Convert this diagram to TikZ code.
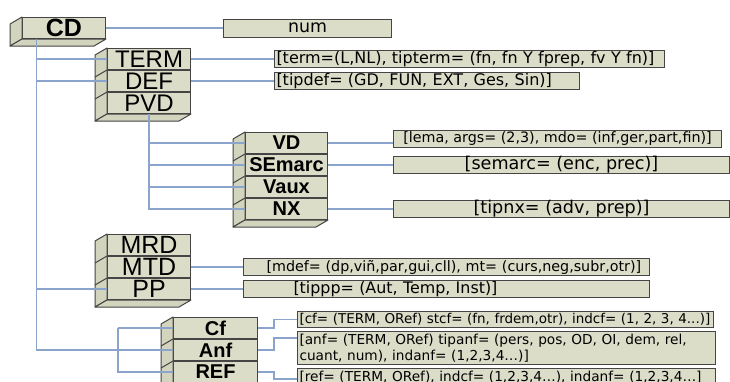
\documentclass[tikz,border=0pt]{standalone}
\usepackage{fontspec}
\setmainfont{Liberation Sans}
\newfontfamily\attrfont{DejaVu Sans}
\usetikzlibrary{positioning}
\definecolor{face}{HTML}{DCDDC8}
\definecolor{side}{HTML}{D3D4BE}
\definecolor{edge}{HTML}{454545}
\definecolor{linkblue}{HTML}{8AA4CC}

% side and bottom faces of a stack, from its top row #1 to its bottom row #2
\newcommand\slab[2]{%
 \filldraw[draw=edge,fill=side,line join=round] (#1.north west) -- ++(-12,7) -- ([shift={(-12,7)}]#2.south west) -- (#2.south west) -- cycle;
 \filldraw[draw=edge,fill=side,line join=round] (#2.south west) -- ++(-12,7) -- ([shift={(-12,7)}]#2.south east) -- (#2.south east) -- cycle;}

\begin{document}
\begin{tikzpicture}[x=1pt,y=-1pt,line width=1pt,
 row/.style={draw=edge,fill=face,minimum width=83pt,minimum height=21pt,inner sep=0pt},
 big/.style={row,font=\fontsize{24}{24}\selectfont},
 bold/.style={row,font=\fontsize{20}{20}\selectfont\bfseries},
 attr/.style={draw=edge,fill=face,minimum height=17pt,inner ysep=0pt,inner xsep=2pt,font=\attrfont\fontsize{#1}{16}\selectfont},
 attr/.default=16,
 link/.style={draw=linkblue,line width=1.1pt}]
 \useasboundingbox (0,0) rectangle (730,381);
 \clip (0,0) rectangle (730,381);
 \fill[white] (0,0) rectangle (730,381);
 % stacks
 \node[row,font=\fontsize{25}{25}\selectfont\bfseries,anchor=north west] (cd) at (22,17) {CD};
 \node[big,anchor=north west] (term) at (107,48) {TERM};
 \node[big,below=0pt of term] (def) {DEF};
 \node[big,below=0pt of def] (pvd) {PVD};
 \node[bold,minimum width=82pt,anchor=north west] (vd) at (245,132) {VD};
 \node[bold,minimum width=82pt,below=0pt of vd] (semarc) {SEmarc};
 \node[bold,minimum width=82pt,below=0pt of semarc] (vaux) {Vaux};
 \node[bold,minimum width=82pt,below=0pt of vaux] (nx) {NX};
 \node[big,font=\fontsize{25}{25}\selectfont,anchor=north west] (mrd) at (107,234) {MRD};
 \node[big,font=\fontsize{25}{25}\selectfont,below=0pt of mrd] (mtd) {MTD};
 \node[big,font=\fontsize{25}{25}\selectfont,below=0pt of mtd] (pp) {PP};
 \node[bold,minimum width=84pt,anchor=north west] (cf) at (173,317) {Cf};
 \node[bold,minimum width=84pt,below=0pt of cf] (anf) {Anf};
 \node[bold,minimum width=84pt,below=0pt of anf] (ref) {REF};
 % attribute boxes
 \node[attr=17.4,minimum width=168pt,minimum height=18pt,right=117pt of cd] (num) {num};
 \node[attr,text width=386pt,align=left,right=83pt of term] (termattr) {[term=(L,NL), tipterm= (fn, fn Y fprep, fv Y fn)]};
 \node[attr,text width=301pt,align=left,right=83pt of def] (defattr) {[tipdef= (GD, FUN, EXT, Ges, Sin)]};
 \node[attr=14.3,minimum width=328pt,right=65pt of vd,yshift=4pt] (vdattr) {[lema, args= (2,3), mdo= (inf,ger,part,fin)]};
 \node[attr=17.6,minimum width=336pt,right=65pt of semarc] (semarcattr) {[semarc= (enc, prec)]};
 \node[attr=17.6,minimum width=336pt,right=65pt of nx] (nxattr) {[tipnx= (adv, prep)]};
 \node[attr=14.3,text width=402pt,align=left,right=52pt of mtd] (mtdattr) {\hspace*{21pt}[mdef= (dp,viñ,par,gui,cll), mt= (curs,neg,subr,otr)]};
 \node[attr=15.9,text width=402pt,align=left,right=52pt of pp] (ppattr) {\hspace*{48pt}[tippp= (Aut, Temp, Inst)]};
 \node[attr=13.5,minimum height=16pt,text width=412pt,align=left,anchor=north west] (cfattr) at (297,311) {[cf= (TERM, ORef) stcf= (fn, frdem,otr), indcf= (1, 2, 3, 4...)]};
 \node[attr=13.7,minimum height=33pt,text width=414pt,align=left,anchor=north west] (anfattr) at (297,331) {[anf= (TERM, ORef) tipanf= (pers, pos, OD, OI, dem, rel,\\cuant, num), indanf= (1,2,3,4…)]};
 \node[attr=13.7,text width=414pt,align=left,anchor=north west] (refattr) at (297,368) {[ref= (TERM, ORef), indcf= (1,2,3,4…), indanf= (1,2,3,4…]};
 % 3d faces
 \slab{cd}{cd}
 \slab{term}{pvd}
 \slab{vd}{nx}
 \slab{mrd}{pp}
 \slab{cf}{ref}
 \foreach \nm in {def,pvd,semarc,vaux,nx,mtd,pp,anf,ref}
  \draw[edge] (\nm.north west) -- ++(-12,7);
 % connectors
 \coordinate (root) at ([xshift=14.5pt]cd.south west);
 \draw[link] (cd.east) -- (cd.east -| num.west);
 \draw[link] (root) |- (anf.west);
 \foreach \nm in {term,def,pp}
  \draw[link] (root |- \nm.west) -- (\nm.west);
 \draw[link] (term.east) -- (termattr.west);
 \draw[link] (def.east) -- (defattr.west);
 \draw[link] (pvd.south) |- (nx.west);
 \foreach \nm in {vd,semarc,vaux}
  \draw[link] (pvd.south |- \nm.west) -- (\nm.west);
 \draw[link] (vd.east) -- (vd.east -| vdattr.west);
 \draw[link] (semarc.east) -- (semarcattr.west);
 \draw[link] (nx.east) -- (nxattr.west);
 \draw[link] (mtd.east) -- (mtdattr.west);
 \draw[link] (pp.east) -- (ppattr.west);
 \coordinate (fork) at ([xshift=-55pt]anf.west);
 \draw[link] (fork |- cf.west) -- (cf.west);
 \draw[link] (fork |- cf.west) -- (fork |- ref.west) -- (ref.west);
 \draw[link] (cf.east) -- ++(16,0) |- (cfattr.west);
 \draw[link] (anf.east) -- ++(16,0) |- ([yshift=-7pt]anfattr.north west);
 \draw[link] (ref.east) -- ++(16,0) |- ([yshift=-11pt]refattr.north west);
\end{tikzpicture}
\end{document}
